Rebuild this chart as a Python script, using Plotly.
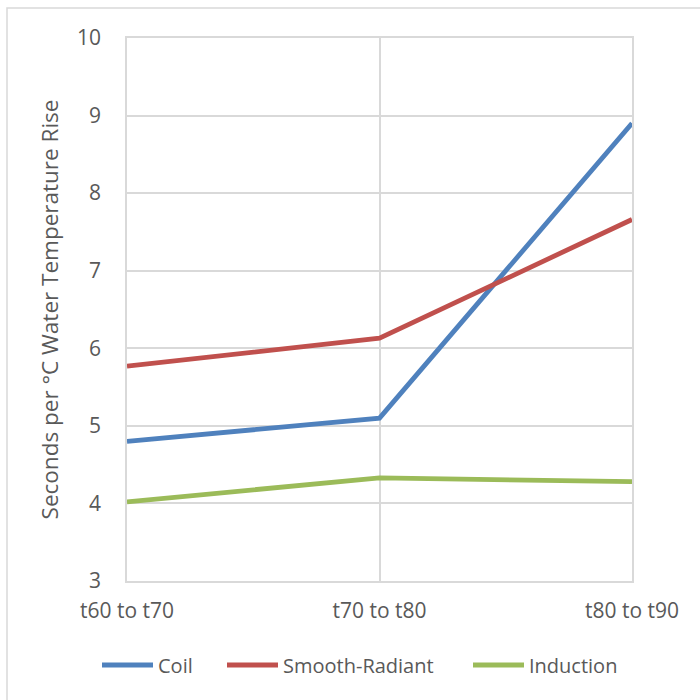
import plotly.graph_objects as go

categories = ["t60 to t70", "t70 to t80", "t80 to t90"]
coil = [4.80, 5.10, 8.90]
smooth_radiant = [5.77, 6.13, 7.66]
induction = [4.02, 4.33, 4.28]

series_names = ["Coil", "Smooth-Radiant", "Induction"]
series_values = [coil, smooth_radiant, induction]
series_colors = ["#4F81BD", "#C0504D", "#9BBB59"]

FONT = "'Open Sans', 'Noto Sans', sans-serif"
TEXT = "#595959"
GRID = "#D9D9D9"

# plot area in pixels (used to place the legend row in paper coordinates)
L, R, T, B = 127, 632, 38, 581
W, H = R - L, B - T


def px_x(x):
    return (x - L) / W


def px_y(y):
    return (B - y) / H


fig = go.Figure()
for name, vals, color in zip(series_names, series_values, series_colors):
    fig.add_trace(go.Scatter(
        x=categories, y=vals, name=name, mode="lines",
        line=dict(color=color, width=4.8),
        showlegend=False,
    ))

# legend row below the plot: swatch line + label per series
legend_swatch_x = [100, 225, 471]
legend_y = 665
shapes = [dict(
    type="rect", xref="paper", yref="paper",
    x0=px_x(7), x1=1.3, y0=-0.5, y1=px_y(8),
    line=dict(color=GRID, width=1.5), fillcolor="rgba(0,0,0,0)",
    layer="below",
)]
annotations = []
for name, color, sx in zip(series_names, series_colors, legend_swatch_x):
    shapes.append(dict(
        type="line", xref="paper", yref="paper",
        x0=px_x(sx + 2), x1=px_x(sx + 53), y0=px_y(legend_y), y1=px_y(legend_y),
        line=dict(color=color, width=5),
    ))
    annotations.append(dict(
        text=name, xref="paper", yref="paper",
        x=px_x(sx + 56), y=px_y(legend_y), xanchor="left", yanchor="middle",
        showarrow=False, font=dict(size=20, color=TEXT),
    ))

fig.update_layout(
    width=700, height=700,
    margin=dict(l=L, r=700 - R, t=T, b=700 - B),
    paper_bgcolor="white", plot_bgcolor="white",
    font=dict(family=FONT, size=20, color=TEXT),
    showlegend=False,
    shapes=shapes,
    annotations=annotations,
)

fig.update_xaxes(
    type="category", range=[0, 2],
    showgrid=True, gridcolor=GRID, gridwidth=1.5,
    showline=True, mirror=True, linecolor=GRID, linewidth=1.5,
    zeroline=False, ticks="",
    tickfont=dict(size=21, color=TEXT), ticklabelstandoff=10,
)
fig.update_yaxes(
    range=[3, 10], dtick=1,
    showgrid=True, gridcolor=GRID, gridwidth=1.5,
    showline=True, mirror=True, linecolor=GRID, linewidth=1.5,
    zeroline=False, ticks="",
    tickfont=dict(size=21, color=TEXT), ticklabelstandoff=20,
    title=dict(text="Seconds per °C Water Temperature Rise",
               font=dict(size=22.5, color=TEXT), standoff=12),
)

fig.write_html("out.html")
